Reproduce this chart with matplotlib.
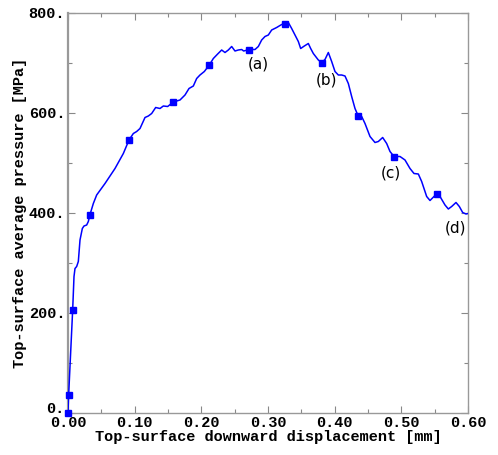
import numpy as np
import matplotlib
matplotlib.use("Agg")
import matplotlib.pyplot as plt

# curve: displacement [mm], pressure [MPa]
disp = [0.0, 0.001, 0.007, 0.009, 0.0105, 0.013, 0.0155, 0.018, 0.0215, 0.024,
        0.028, 0.0305, 0.033, 0.038, 0.043, 0.0555, 0.0705, 0.083, 0.0915, 0.098,
        0.103, 0.108, 0.1155, 0.1205, 0.1255, 0.1315, 0.138, 0.143, 0.1495, 0.158,
        0.168, 0.1755, 0.1815, 0.188, 0.193, 0.198, 0.2045, 0.212, 0.218, 0.2245,
        0.2305, 0.2355, 0.2405, 0.2455, 0.2505, 0.2555, 0.2605, 0.2635, 0.272, 0.2805,
        0.2855, 0.2905, 0.2955, 0.3005, 0.3055, 0.313, 0.3205, 0.3255, 0.3305, 0.3355,
        0.3405, 0.3455, 0.349, 0.3545, 0.3605, 0.364, 0.368, 0.3755, 0.3805, 0.3855,
        0.3905, 0.3955, 0.4005, 0.4055, 0.4105, 0.4155, 0.4205, 0.4255, 0.4305, 0.435,
        0.4405, 0.4455, 0.453, 0.4605, 0.4655, 0.472, 0.478, 0.483, 0.489, 0.498,
        0.5055, 0.513, 0.519, 0.5255, 0.5305, 0.538, 0.543, 0.549, 0.553, 0.558,
        0.5655, 0.5705, 0.5755, 0.582, 0.587, 0.592, 0.597, 0.6]
pres = [0, 37, 206, 273, 289, 293, 303, 346, 369, 374,
        376, 383, 397, 419, 436, 459, 489, 519, 546, 559,
        563, 569, 591, 594, 599, 611, 609, 614, 613, 622,
        626, 636, 649, 654, 669, 676, 683, 696, 709, 718,
        726, 721, 726, 733, 724, 726, 727, 724, 727, 727,
        733, 746, 753, 756, 766, 771, 777, 779, 781, 769,
        756, 743, 729, 734, 739, 729, 719, 706, 701, 707,
        721, 703, 683, 676, 676, 674, 659, 633, 609, 595,
        593, 579, 553, 541, 543, 551, 539, 523, 513, 513,
        506, 489, 479, 478, 463, 433, 425, 433, 438, 433,
        416, 408, 413, 421, 413, 401, 398, 399]

# square markers on the curve
mark_disp = [0.0, 0.001, 0.007, 0.033, 0.0915, 0.158, 0.212, 0.272, 0.3255,
             0.3805, 0.435, 0.489, 0.553]
mark_pres = [0, 37, 206, 397, 546, 622, 696, 727, 779, 701, 595, 513, 438]

# labels (a)-(d)
lab_text = ["(a)", "(b)", "(c)", "(d)"]
lab_disp = [0.285, 0.387, 0.4845, 0.582]
lab_pres = [698, 666, 480, 370]

xticks = [0.0, 0.1, 0.2, 0.3, 0.4, 0.5, 0.6]
xticklabels = ["0.00", "0.10", "0.20", "0.30", "0.40", "0.50", "0.60"]
yticks = [0, 200, 400, 600, 800]
yticklabels = ["0.", "200.", "400.", "600.", "800."]

mono = {"family": "Liberation Mono", "weight": "bold", "size": 11}

fig = plt.figure(figsize=(4.98, 4.55), dpi=100)
ax = fig.add_axes([68/498, 42/455, 400/498, 400/455])

ax.plot(disp, pres, color="#0000ff", lw=1.1, zorder=3)
ax.plot(mark_disp, mark_pres, ls="none", marker="s", ms=4, color="#0000ff", zorder=4, clip_on=False)

for t, x, y in zip(lab_text, lab_disp, lab_pres):
    ax.text(x, y, t, fontsize=11, family="DejaVu Sans", ha="center", va="center")

ax.set_xlim(0, 0.6)
ax.set_ylim(0, 800)
ax.set_xticks(xticks)
ax.set_xticklabels(xticklabels, fontdict=mono)
ax.set_yticks(yticks)
# the bottom label sits a little higher so it clears "0.00"
ax.set_yticklabels([""] + yticklabels[1:], fontdict=mono)
ax.annotate(yticklabels[0], xy=(0, yticks[0]), xytext=(-2.5, 3), textcoords="offset points",
            ha="right", va="center", fontproperties=None, **mono)
ax.set_xticks(np.arange(0.05, 0.6, 0.1), minor=True)
ax.set_yticks([100, 300, 500, 700], minor=True)

for s in ax.spines.values():
    s.set_color("#999999")
    s.set_linewidth(1.0)
ax.spines["left"].set_linewidth(1.6)

ax.tick_params(which="both", direction="in", top=True, right=True, color="#888888")
ax.tick_params(which="major", length=5, width=0.8, pad=2)
ax.tick_params(which="minor", length=3, width=0.8)

ax.set_xlabel("Top-surface downward displacement [mm]", fontdict=mono, labelpad=0)
ax.set_ylabel("Top-surface average pressure [MPa]", fontdict=mono, labelpad=1)

fig.savefig("out.png", dpi=100)
